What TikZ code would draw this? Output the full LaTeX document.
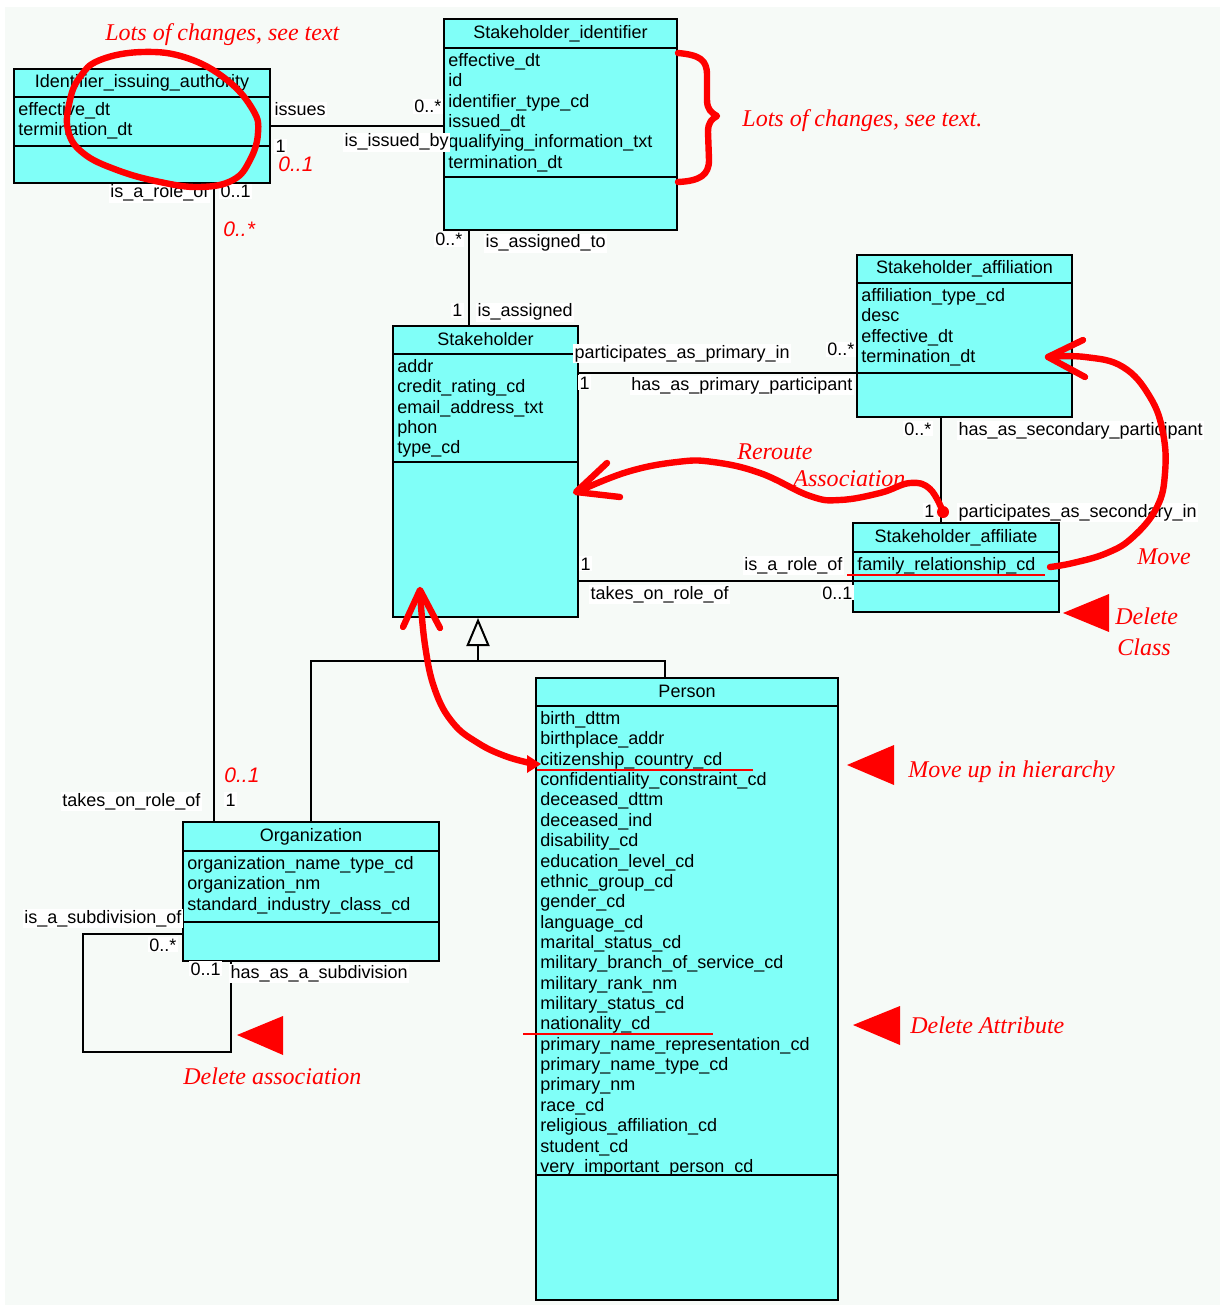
\documentclass[tikz,border=0pt]{standalone}
\usepackage{fontspec}
\setmainfont{Liberation Sans}
\newfontfamily\notefont{Liberation Serif}
\usetikzlibrary{arrows.meta,fit}

\definecolor{sheet}{RGB}{246,250,247}
\definecolor{classfill}{RGB}{128,255,248}
\definecolor{markred}{RGB}{255,0,0}

\tikzset{
  classbox/.style={draw=black, line width=1pt, fill=classfill, inner sep=0pt},
  classline/.style={line width=1pt},
  classtitle/.style={anchor=base, inner sep=0pt, font=\fontsize{9}{10.2}\selectfont},
  attrtext/.style={anchor=base west, inner sep=0pt, font=\fontsize{9}{10.2}\selectfont},
  assoc/.style={line width=1pt},
  role/.style={fill=white, inner sep=0.6pt, font=\fontsize{9}{10.2}\selectfont},
  redmult/.style={text=markred, inner sep=0pt, font=\fontsize{10.5}{12}\selectfont\itshape},
  note/.style={text=markred, inner sep=0pt, font=\notefont\itshape\fontsize{12}{14}\selectfont},
  redmark/.style={draw=markred, line width=3.2pt, line cap=round, line join=round},
  redline/.style={draw=markred, line width=1.2pt}
}

% class box: name, left, top, right, bottom, title rule, attribute rule, title, attributes
\newcommand\umlclass[9]{%
  \node [classbox, fit={(#2,#3) (#4,#5)}] (#1) {};
  \draw [classline] (#2,#6) -- (#4,#6);
  \draw [classline] (#2,#7) -- (#4,#7);
  \node [classtitle] (#1-title) at ({(#2+#4)/2},{(#3+#6)/2+5}) {#8};
  \foreach \attr [count=\k from 0] in {#9}
    \node [attrtext] (#1-a\k) at ({#2+4},{#6+18.5+20.36*\k}) {\attr};
}

\begin{document}
\begin{tikzpicture}[x=0.5pt, y=-0.5pt]
	% Sheet
	\fill [white] (0,0) rectangle (1225,1310);
	\fill [sheet] (5,7) rectangle (1220,1305);
	\useasboundingbox (0,0) rectangle (1225,1310);

	% Classes
	\umlclass{idauth}{14}{69}{270}{183}{97}{146}{Identifier\_issuing\_authority}
		{effective\_dt, termination\_dt}
	\umlclass{stkid}{444}{19}{677}{230}{48}{177}{Stakeholder\_identifier}
		{effective\_dt, id, identifier\_type\_cd, issued\_dt, qualifying\_information\_txt, termination\_dt}
	\umlclass{stk}{393}{326}{578}{617}{354}{462}{Stakeholder}
		{addr, credit\_rating\_cd, email\_address\_txt, phon, type\_cd}
	\umlclass{affil}{857}{255}{1072}{417}{283}{373}{Stakeholder\_affiliation}
		{affiliation\_type\_cd, desc, effective\_dt, termination\_dt}
	\umlclass{affiliate}{853}{523}{1059}{612}{552}{581}{Stakeholder\_affiliate}
		{family\_relationship\_cd}
	\umlclass{org}{183}{822}{439}{961}{851}{922}{Organization}
		{organization\_name\_type\_cd, organization\_nm, standard\_industry\_class\_cd}
	\umlclass{person}{536}{678}{838}{1300}{706}{1175}{Person}
		{birth\_dttm, birthplace\_addr, citizenship\_country\_cd, confidentiality\_constraint\_cd,
		 deceased\_dttm, deceased\_ind, disability\_cd, education\_level\_cd, ethnic\_group\_cd,
		 gender\_cd, language\_cd, marital\_status\_cd, military\_branch\_of\_service\_cd,
		 military\_rank\_nm, military\_status\_cd, nationality\_cd,
		 primary\_name\_representation\_cd, primary\_name\_type\_cd, primary\_nm, race\_cd,
		 religious\_affiliation\_cd, student\_cd, very\_important\_person\_cd}

	% Associations
	\coordinate (loopcorner) at (83,1052);
	\coordinate (genjoin) at (478,661);
	\draw [assoc] (idauth.east) -- (idauth.east -| stkid.west);
	\draw [assoc] ([xshift=36pt]idauth.south) -- ([xshift=36pt]idauth.south |- org.north);
	\draw [assoc] ([xshift=-8.25pt]stk.north) -- ([xshift=-8.25pt]stk.north |- stkid.south);
	\draw [assoc] ([yshift=-18.5pt]affil.west) -- ([yshift=-18.5pt]affil.west -| stk.east);
	\draw [assoc] ([xshift=-11.75pt]affil.south) -- ([xshift=-11.75pt]affil.south |- affiliate.north);
	\draw [assoc] ([yshift=-6.75pt]affiliate.west) -- ([yshift=-6.75pt]affiliate.west -| stk.east);
	\draw [assoc] ([yshift=-21.25pt]org.west) -| (loopcorner) -| ([xshift=-40pt]org.south);

	% Generalization
	\draw [assoc] (org.north) |- (genjoin);
	\draw [assoc] ([xshift=-11pt]person.north) |- (genjoin);
	\draw [assoc, -{Triangle[open, width=11.5pt, length=14pt]}] (genjoin) -- (genjoin |- stk.south);

	% Role names and multiplicities
	\node [role, anchor=base west] (r1)  at (273,116)  {issues};
	\node [role, anchor=base east] (m1)  at (443,113)  {0..*};
	\node [role, anchor=base west] (r2)  at (343,147)  {is\_issued\_by};
	\node [role, anchor=base west] (m2)  at (274,153)  {1};
	\node [role, anchor=base east] (r3)  at (210,198)  {is\_a\_role\_of};
	\node [role, anchor=base west] (m3)  at (219,198)  {0..1};
	\node [role, anchor=base east] (r4)  at (202,806)  {takes\_on\_role\_of};
	\node [role, anchor=base west] (m4)  at (224,806)  {1};
	\node [role, anchor=base east] (m5)  at (464,246)  {0..*};
	\node [role, anchor=base west] (r5)  at (484,248)  {is\_assigned\_to};
	\node [role, anchor=base east] (m6)  at (464,317)  {1};
	\node [role, anchor=base west] (r6)  at (476,317)  {is\_assigned};
	\node [role, anchor=base west] (r7)  at (573,358)  {participates\_as\_primary\_in};
	\node [role, anchor=base east] (m7)  at (856,356)  {0..*};
	\node [role, anchor=base west] (m8)  at (578,389)  {1};
	\node [role, anchor=base east] (r8)  at (854,390)  {has\_as\_primary\_participant};
	\node [role, anchor=base east] (m9)  at (933,435)  {0..*};
	\node [role, anchor=base west] (r9)  at (957,435)  {has\_as\_secondary\_participant};
	\node [role, anchor=base east] (m10) at (936,517)  {1};
	\node [role, anchor=base west] (r10) at (957,517)  {participates\_as\_secondary\_in};
	\node [role, anchor=base west] (m11) at (579,570)  {1};
	\node [role, anchor=base east] (r11) at (844,570)  {is\_a\_role\_of};
	\node [role, anchor=base west] (r12) at (589,599)  {takes\_on\_role\_of};
	\node [role, anchor=base east] (m12) at (854,599)  {0..1};
	\node [role, anchor=base east] (r13) at (183,923)  {is\_a\_subdivision\_of};
	\node [role, anchor=base east] (m13) at (178,951)  {0..*};
	\node [role, anchor=base west] (m14) at (189,975)  {0..1};
	\node [role, anchor=base west] (r14) at (229,978)  {has\_as\_a\_subdivision};

	% Red corrections
	\node [redmult, anchor=base west] (n1) at (278,172) {0..1};
	\node [redmult, anchor=base west] (n2) at (223,237) {0..*};
	\node [redmult, anchor=base west] (n3) at (224,782) {0..1};

	\draw [redmark] plot [smooth cycle, tension=0.7] coordinates {(100,60) (143,52) (187,58) (227,80)
		(253,110) (258,133) (250,160) (233,180) (200,187) (160,182) (117,170) (83,153) (68,130) (70,100) (80,77)};
	\draw [redmark] (678,53) .. controls (700,55) and (707,60) .. (707,75) -- (707,100)
		.. controls (707,110) and (712,113) .. (717,116) .. controls (712,119) and (708,122) .. (708,132)
		-- (709,160) .. controls (709,175) and (700,181) .. (678,182);

	% reroute
	\fill [markred] (943,512) circle [radius=3pt];
	\draw [redmark] plot [smooth, tension=0.7] coordinates {(943,512) (930,489) (910,483) (880,493)
		(840,500) (810,496) (760,473) (713,462) (677,462) (627,472) (577,492)};
	\draw [redmark] (607,463) -- (576,492) -- (620,497);

	% move
	\draw [redmark] plot [smooth, tension=0.7] coordinates {(1050,567) (1073,563) (1107,553) (1133,537)
		(1157,507) (1165,473) (1163,433) (1150,397) (1123,367) (1085,357) (1048,357)};
	\draw [redmark] (1083,340) -- (1048,357) -- (1085,377);
	\draw [redline] (847,575) -- (1045,575);

	% move up in hierarchy
	\draw [redmark] plot [smooth, tension=0.7] coordinates {(530,763) (505,756) (478,743) (453,723)
		(435,690) (425,645) (420,592)};
	\draw [redmark] (403,627) -- (420,590) -- (440,628);
	\fill [markred] (527,755) -- (541,764) -- (527,773) -- cycle;
	\draw [redline] (537,770) -- (753,770);
	\draw [redline] (523,1034) -- (713,1034);

	% pointers
	\fill [markred] (847,765) -- (894,745) -- (894,785) -- cycle;
	\fill [markred] (853,1025) -- (900,1006) -- (900,1045) -- cycle;
	\fill [markred] (1063,613) -- (1109,594) -- (1109,632) -- cycle;
	\fill [markred] (237,1035) -- (283,1016) -- (283,1055) -- cycle;

	\node [note, anchor=base west] (a1)  at (105,41)   {Lots of changes, see text};
	\node [note, anchor=base west] (a2)  at (742,127)  {Lots of changes, see text.};
	\node [note, anchor=base west] (a3)  at (737,459)  {Reroute};
	\node [note, anchor=base west] (a4)  at (793,486)  {Association};
	\node [note, anchor=base west] (a5)  at (1137,564) {Move};
	\node [note, anchor=base west] (a6)  at (1115,624) {Delete};
	\node [note, anchor=base west] (a7)  at (1117,655) {Class};
	\node [note, anchor=base west] (a8)  at (908,777)  {Move up in hierarchy};
	\node [note, anchor=base west] (a9)  at (910,1033) {Delete Attribute};
	\node [note, anchor=base west] (a10) at (183,1084) {Delete association};
\end{tikzpicture}
\end{document}
